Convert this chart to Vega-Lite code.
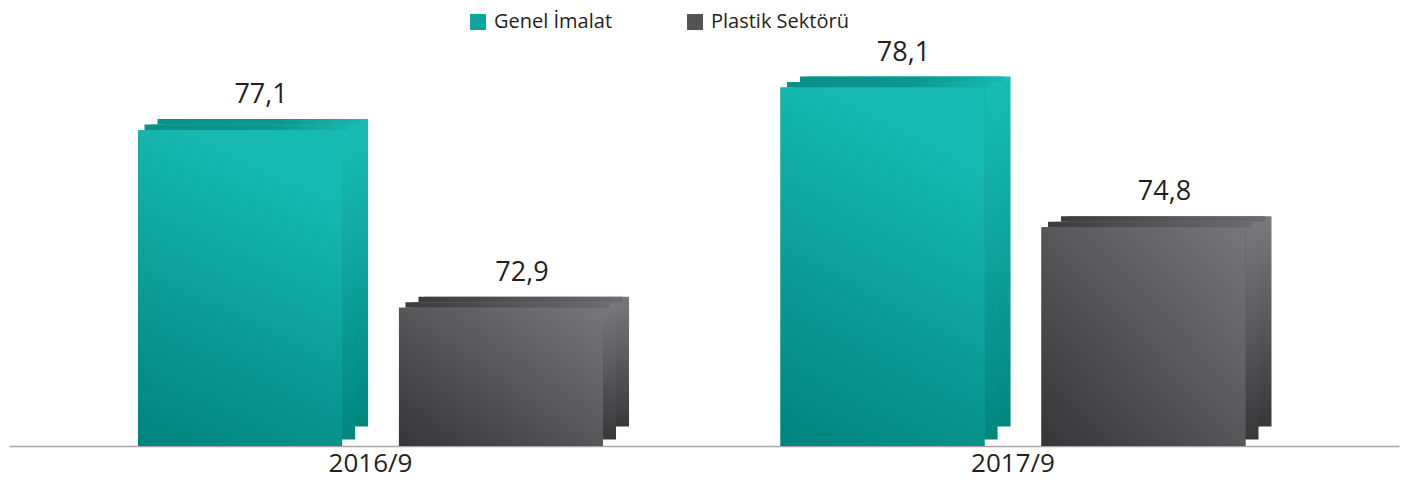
{
  "$schema": "https://vega.github.io/schema/vega-lite/v6.json",
  "width": 1390,
  "height": 446,
  "autosize": {"type": "none"},
  "padding": {"left": 9, "right": 9, "top": 0, "bottom": 35},
  "config": {
    "view": {"stroke": null},
    "locale": {"number": {"decimal": ",", "thousands": ".", "grouping": [3], "currency": ["", " TL"]}}
  },
  "data": {
    "values": [
      {"period": "2016/9", "series": "Genel İmalat", "value": 77.1},
      {"period": "2016/9", "series": "Plastik Sektörü", "value": 72.9},
      {"period": "2017/9", "series": "Genel İmalat", "value": 78.1},
      {"period": "2017/9", "series": "Plastik Sektörü", "value": 74.8}
    ]
  },
  "encoding": {
    "x": {
      "field": "period", "type": "nominal", "sort": ["2016/9", "2017/9"],
      "scale": {"paddingInner": 0.2763, "paddingOuter": 0.2199, "align": 0.4566},
      "axis": {"title": null, "labelFont": "Open Sans", "labelFontSize": 26, "labelColor": "#231f20", "ticks": false, "domainColor": "#a6a6a6", "domainWidth": 1.5, "labelPadding": 4, "labelAngle": 0}
    },
    "y": {
      "field": "value", "type": "quantitative",
      "scale": {"domain": [69.63, 80.17], "zero": false, "nice": false},
      "axis": null
    }
  },
  "layer": [
    {
      "transform": [{"filter": {"field": "series", "equal": "Genel İmalat"}}],
      "mark": {"type": "bar", "yOffset": -11, "y2Offset": -19.5,
        "color": {"gradient": "linear", "x1": 0, "y1": 0, "x2": 0, "y2": 1, "stops": [{"offset": 0, "color": "#19beb3"}, {"offset": 1, "color": "#00867f"}]}},
      "encoding": {
        "y2": {"datum": 69.63},
        "xOffset": {"field": "series", "type": "nominal", "scale": {"type": "band", "domain": ["Genel İmalat", "Plastik Sektörü"], "range": [26, 491], "paddingInner": 0.218, "paddingOuter": 0}}
      }
    },
    {
      "transform": [{"filter": {"field": "series", "equal": "Plastik Sektörü"}}],
      "mark": {"type": "bar", "yOffset": -11, "y2Offset": -19.5,
        "color": {"gradient": "linear", "x1": 0, "y1": 0, "x2": 0, "y2": 1, "stops": [{"offset": 0, "color": "#7a7a7e"}, {"offset": 1, "color": "#38383a"}]}},
      "encoding": {
        "y2": {"datum": 69.63},
        "xOffset": {"field": "series", "type": "nominal", "scale": {"type": "band", "domain": ["Genel İmalat", "Plastik Sektörü"], "range": [26, 491], "paddingInner": 0.218, "paddingOuter": 0}}
      }
    },
    {
      "transform": [{"filter": {"field": "series", "equal": "Genel İmalat"}}],
      "mark": {"type": "bar", "yOffset": -5.5, "y2Offset": -6.5,
        "color": {"gradient": "linear", "x1": 0, "y1": 0, "x2": 0, "y2": 1, "stops": [{"offset": 0, "color": "#19beb3"}, {"offset": 1, "color": "#00867f"}]}},
      "encoding": {
        "y2": {"datum": 69.63},
        "xOffset": {"field": "series", "type": "nominal", "scale": {"type": "band", "domain": ["Genel İmalat", "Plastik Sektörü"], "range": [13, 478], "paddingInner": 0.218, "paddingOuter": 0}}
      }
    },
    {
      "transform": [{"filter": {"field": "series", "equal": "Plastik Sektörü"}}],
      "mark": {"type": "bar", "yOffset": -5.5, "y2Offset": -6.5,
        "color": {"gradient": "linear", "x1": 0, "y1": 0, "x2": 0, "y2": 1, "stops": [{"offset": 0, "color": "#7a7a7e"}, {"offset": 1, "color": "#38383a"}]}},
      "encoding": {
        "y2": {"datum": 69.63},
        "xOffset": {"field": "series", "type": "nominal", "scale": {"type": "band", "domain": ["Genel İmalat", "Plastik Sektörü"], "range": [13, 478], "paddingInner": 0.218, "paddingOuter": 0}}
      }
    },
    {
      "transform": [{"filter": {"field": "series", "equal": "Genel İmalat"}}],
      "mark": {"type": "bar", "yOffset": -11, "y2Offset": -5.5,
        "color": {"gradient": "linear", "x1": 0, "y1": 0, "x2": 1, "y2": 0, "stops": [{"offset": 0, "color": "#0a8f89"}, {"offset": 0.6, "color": "#0c9890"}, {"offset": 1, "color": "#19b6ad"}]}},
      "encoding": {
        "y2": {"field": "value"},
        "xOffset": {"field": "series", "type": "nominal", "scale": {"type": "band", "domain": ["Genel İmalat", "Plastik Sektörü"], "range": [19.5, 484.5], "paddingInner": 0.218, "paddingOuter": 0}}
      }
    },
    {
      "transform": [{"filter": {"field": "series", "equal": "Plastik Sektörü"}}],
      "mark": {"type": "bar", "yOffset": -11, "y2Offset": -5.5,
        "color": {"gradient": "linear", "x1": 0, "y1": 0, "x2": 1, "y2": 0, "stops": [{"offset": 0, "color": "#3c3c3e"}, {"offset": 1, "color": "#6c6c70"}]}},
      "encoding": {
        "y2": {"field": "value"},
        "xOffset": {"field": "series", "type": "nominal", "scale": {"type": "band", "domain": ["Genel İmalat", "Plastik Sektörü"], "range": [19.5, 484.5], "paddingInner": 0.218, "paddingOuter": 0}}
      }
    },
    {
      "transform": [{"filter": {"field": "series", "equal": "Genel İmalat"}}],
      "mark": {"type": "bar", "yOffset": -5.5, "y2Offset": 0,
        "color": {"gradient": "linear", "x1": 0, "y1": 0, "x2": 1, "y2": 0, "stops": [{"offset": 0, "color": "#0a8f89"}, {"offset": 0.6, "color": "#0c9890"}, {"offset": 1, "color": "#19b6ad"}]}},
      "encoding": {
        "y2": {"field": "value"},
        "xOffset": {"field": "series", "type": "nominal", "scale": {"type": "band", "domain": ["Genel İmalat", "Plastik Sektörü"], "range": [6.5, 471.5], "paddingInner": 0.218, "paddingOuter": 0}}
      }
    },
    {
      "transform": [{"filter": {"field": "series", "equal": "Plastik Sektörü"}}],
      "mark": {"type": "bar", "yOffset": -5.5, "y2Offset": 0,
        "color": {"gradient": "linear", "x1": 0, "y1": 0, "x2": 1, "y2": 0, "stops": [{"offset": 0, "color": "#3c3c3e"}, {"offset": 1, "color": "#6c6c70"}]}},
      "encoding": {
        "y2": {"field": "value"},
        "xOffset": {"field": "series", "type": "nominal", "scale": {"type": "band", "domain": ["Genel İmalat", "Plastik Sektörü"], "range": [6.5, 471.5], "paddingInner": 0.218, "paddingOuter": 0}}
      }
    },
    {
      "mark": {"type": "bar"},
      "encoding": {
        "y2": {"datum": 69.63},
        "xOffset": {"field": "series", "type": "nominal", "scale": {"type": "band", "domain": ["Genel İmalat", "Plastik Sektörü"], "range": [0, 465], "paddingInner": 0.218, "paddingOuter": 0}},
        "color": {
          "field": "series", "type": "nominal",
          "scale": {"domain": ["Genel İmalat", "Plastik Sektörü"], "range": ["#0ea59c", "#535356"]},
          "legend": {
            "orient": "none", "legendX": 459, "legendY": 12, "direction": "horizontal", "title": null,
            "symbolType": "square", "symbolSize": 256, "symbolStrokeWidth": 0, "symbolOpacity": 1,
            "labelFont": "Open Sans", "labelFontSize": 20, "labelColor": "#231f20", "labelOffset": 6,
            "columnPadding": 72, "padding": 0
          }
        }
      }
    },
    {
      "transform": [{"filter": {"field": "series", "equal": "Genel İmalat"}}],
      "mark": {"type": "bar",
        "color": {"gradient": "linear", "x1": 0.3, "y1": 0, "x2": 0, "y2": 1, "stops": [{"offset": 0, "color": "#16bab0"}, {"offset": 1, "color": "#00837e"}]}},
      "encoding": {
        "y2": {"datum": 69.63},
        "xOffset": {"field": "series", "type": "nominal", "scale": {"type": "band", "domain": ["Genel İmalat", "Plastik Sektörü"], "range": [0, 465], "paddingInner": 0.218, "paddingOuter": 0}}
      }
    },
    {
      "transform": [{"filter": {"field": "series", "equal": "Plastik Sektörü"}}],
      "mark": {"type": "bar",
        "color": {"gradient": "linear", "x1": 1, "y1": 0, "x2": 0, "y2": 1, "stops": [{"offset": 0, "color": "#77777b"}, {"offset": 1, "color": "#363638"}]}},
      "encoding": {
        "y2": {"datum": 69.63},
        "xOffset": {"field": "series", "type": "nominal", "scale": {"type": "band", "domain": ["Genel İmalat", "Plastik Sektörü"], "range": [0, 465], "paddingInner": 0.218, "paddingOuter": 0}}
      }
    },
    {
      "mark": {"type": "text", "dy": -27, "dx": 21, "baseline": "alphabetic", "font": "Open Sans", "fontSize": 27, "color": "#231f20"},
      "encoding": {
        "xOffset": {"field": "series", "type": "nominal", "scale": {"type": "band", "domain": ["Genel İmalat", "Plastik Sektörü"], "range": [0, 465], "paddingInner": 0.218, "paddingOuter": 0}},
        "text": {"field": "value", "type": "quantitative", "format": ".1f"}
      }
    }
  ],
  "resolve": {"scale": {"xOffset": "independent"}}
}
